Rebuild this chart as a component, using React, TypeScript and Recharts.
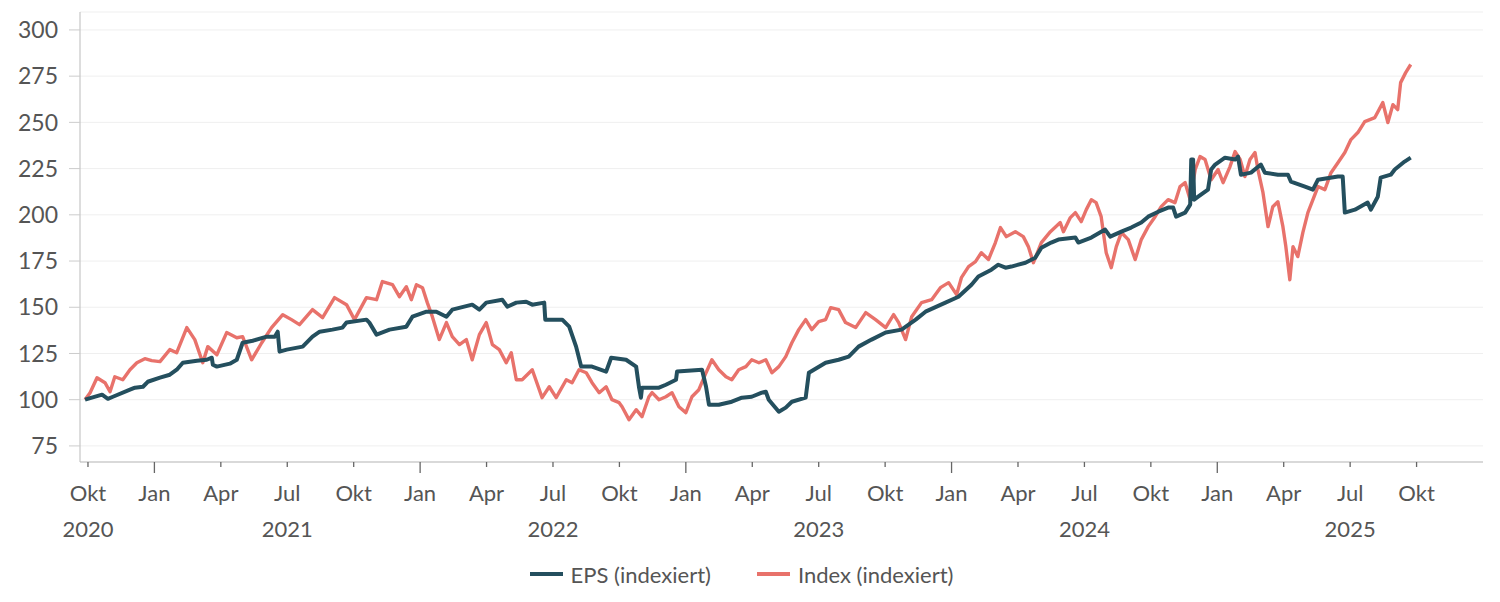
import React from "react";
import { LineChart, Line, XAxis, YAxis, CartesianGrid, Legend } from "recharts";

// time axis in decimal years (2020.75 = Okt 2020)
const tickPositions = [
  2020.75, 2021, 2021.25, 2021.5, 2021.75, 2022, 2022.25, 2022.5, 2022.75, 2023, 2023.25, 2023.5,
  2023.75, 2024, 2024.25, 2024.5, 2024.75, 2025, 2025.25, 2025.5, 2025.75,
];
const monthLabels = [
  "Okt", "Jan", "Apr", "Jul", "Okt", "Jan", "Apr", "Jul", "Okt", "Jan", "Apr", "Jul",
  "Okt", "Jan", "Apr", "Jul", "Okt", "Jan", "Apr", "Jul", "Okt",
];
const yearLabels = [
  "2020", "", "", "2021", "", "", "", "2022", "", "", "", "2023",
  "", "", "", "2024", "", "", "", "2025", "",
];
const yTicks = [75, 100, 125, 150, 175, 200, 225, 250, 275, 300];

const indexDates = [
  2020.739, 2020.758, 2020.784, 2020.814, 2020.833, 2020.851, 2020.881, 2020.908, 2020.934, 2020.964,
  2020.99, 2021.021, 2021.058, 2021.084, 2021.122, 2021.152, 2021.182, 2021.201, 2021.235, 2021.272,
  2021.31, 2021.332, 2021.366, 2021.404, 2021.441, 2021.483, 2021.516, 2021.546, 2021.595, 2021.633,
  2021.678, 2021.723, 2021.753, 2021.798, 2021.836, 2021.858, 2021.896, 2021.922, 2021.948, 2021.967,
  2021.986, 2022.009, 2022.027, 2022.046, 2022.072, 2022.099, 2022.121, 2022.148, 2022.174, 2022.196,
  2022.223, 2022.249, 2022.272, 2022.298, 2022.324, 2022.343, 2022.362, 2022.384, 2022.422, 2022.459,
  2022.486, 2022.512, 2022.55, 2022.572, 2022.598, 2022.625, 2022.647, 2022.674, 2022.7, 2022.722,
  2022.749, 2022.76, 2022.786, 2022.813, 2022.835, 2022.861, 2022.873, 2022.899, 2022.925, 2022.948,
  2022.974, 2023.0, 2023.023, 2023.049, 2023.076, 2023.098, 2023.124, 2023.151, 2023.173, 2023.199,
  2023.226, 2023.248, 2023.275, 2023.301, 2023.324, 2023.35, 2023.376, 2023.399, 2023.425, 2023.451,
  2023.474, 2023.5, 2023.526, 2023.545, 2023.575, 2023.601, 2023.639, 2023.677, 2023.714, 2023.752,
  2023.782, 2023.801, 2023.827, 2023.85, 2023.887, 2023.925, 2023.958, 2023.989, 2024.019, 2024.037,
  2024.064, 2024.09, 2024.112, 2024.139, 2024.165, 2024.184, 2024.206, 2024.24, 2024.27, 2024.289,
  2024.308, 2024.338, 2024.372, 2024.409, 2024.421, 2024.447, 2024.466, 2024.488, 2024.507, 2024.526,
  2024.544, 2024.563, 2024.582, 2024.601, 2024.62, 2024.639, 2024.665, 2024.691, 2024.714, 2024.74,
  2024.766, 2024.789, 2024.815, 2024.841, 2024.86, 2024.879, 2024.898, 2024.917, 2024.935, 2024.954,
  2024.977, 2025.003, 2025.022, 2025.048, 2025.067, 2025.086, 2025.104, 2025.123, 2025.142, 2025.153,
  2025.172, 2025.191, 2025.209, 2025.228, 2025.247, 2025.258, 2025.273, 2025.285, 2025.303, 2025.322,
  2025.341, 2025.36, 2025.379, 2025.405, 2025.428, 2025.454, 2025.48, 2025.503, 2025.529, 2025.555,
  2025.593, 2025.623, 2025.642, 2025.661, 2025.679, 2025.69, 2025.709, 2025.728,
];
const indexValues = [
  100.0, 103.8, 111.9, 109.2, 104.3, 112.4, 110.8, 116.2, 120.0, 122.2,
  121.1, 120.6, 127.1, 125.4, 139.0, 132.5, 120.0, 128.7, 124.3, 136.3,
  133.5, 134.1, 121.6, 130.8, 139.0, 146.0, 143.3, 140.6, 148.7, 144.4,
  155.2, 151.4, 143.3, 155.2, 154.1, 163.9, 162.2, 155.7, 161.1, 154.1,
  162.2, 160.6, 152.5, 144.9, 132.5, 141.7, 134.1, 129.8, 132.5, 121.6,
  135.2, 141.7, 129.8, 127.1, 120.0, 125.4, 110.8, 110.8, 116.2, 101.1,
  107.0, 101.1, 110.8, 109.2, 116.2, 114.6, 109.2, 103.8, 107.0, 100.0,
  98.4, 96.2, 89.2, 94.6, 90.8, 101.6, 103.8, 100.0, 101.6, 103.8,
  96.2, 93.0, 101.6, 105.4, 114.6, 121.6, 116.2, 112.4, 110.8, 116.2,
  117.9, 121.6, 120.0, 121.6, 114.6, 117.9, 123.3, 130.8, 137.9, 143.3,
  137.9, 142.2, 143.3, 149.8, 148.7, 141.7, 139.0, 147.1, 143.3, 139.0,
  146.0, 141.7, 132.5, 144.9, 152.5, 154.1, 160.6, 163.3, 156.8, 166.0,
  172.0, 174.7, 179.5, 175.8, 185.0, 193.1, 188.2, 190.9, 188.2, 182.8,
  174.1, 185.0, 190.9, 195.8, 190.9, 198.5, 201.2, 196.3, 202.8, 208.2,
  206.6, 199.0, 179.5, 171.4, 182.8, 190.4, 186.6, 175.8, 186.6, 193.6,
  199.0, 204.4, 208.2, 206.6, 215.3, 217.4, 208.2, 224.5, 231.5, 229.9,
  219.0, 224.5, 217.4, 226.1, 234.2, 229.9, 220.7, 229.9, 233.7, 224.5,
  212.0, 193.6, 204.4, 207.1, 193.6, 182.8, 164.9, 182.8, 177.4, 190.4,
  201.2, 208.2, 215.3, 213.6, 222.8, 228.2, 233.7, 240.7, 244.5, 250.4,
  252.6, 260.7, 249.9, 259.6, 256.9, 271.5, 276.9, 281.3,
];

const epsDates = [
  2020.739, 2020.803, 2020.825, 2020.844, 2020.908, 2020.927, 2020.957, 2020.975, 2021.021, 2021.058,
  2021.084, 2021.107, 2021.16, 2021.197, 2021.216, 2021.22, 2021.235, 2021.284, 2021.31, 2021.332,
  2021.37, 2021.423, 2021.453, 2021.464, 2021.471, 2021.498, 2021.558, 2021.595, 2021.622, 2021.67,
  2021.708, 2021.723, 2021.798, 2021.809, 2021.836, 2021.885, 2021.948, 2021.971, 2022.024, 2022.061,
  2022.099, 2022.121, 2022.196, 2022.223, 2022.249, 2022.309, 2022.328, 2022.362, 2022.399, 2022.422,
  2022.467, 2022.471, 2022.535, 2022.561, 2022.587, 2022.606, 2022.647, 2022.7, 2022.719, 2022.775,
  2022.813, 2022.824, 2022.831, 2022.835, 2022.899, 2022.925, 2022.963, 2022.967, 2023.061, 2023.076,
  2023.087, 2023.124, 2023.173, 2023.211, 2023.248, 2023.286, 2023.301, 2023.312, 2023.35, 2023.376,
  2023.399, 2023.451, 2023.463, 2023.526, 2023.575, 2023.613, 2023.65, 2023.699, 2023.752, 2023.812,
  2023.865, 2023.902, 2023.977, 2024.026, 2024.075, 2024.101, 2024.15, 2024.176, 2024.203, 2024.225,
  2024.278, 2024.315, 2024.338, 2024.375, 2024.402, 2024.466, 2024.477, 2024.526, 2024.578, 2024.597,
  2024.639, 2024.676, 2024.714, 2024.74, 2024.778, 2024.815, 2024.834, 2024.845, 2024.879, 2024.898,
  2024.902, 2024.909, 2024.913, 2024.928, 2024.965, 2024.977, 2024.992, 2025.029, 2025.067, 2025.078,
  2025.089, 2025.127, 2025.164, 2025.179, 2025.228, 2025.266, 2025.277, 2025.33, 2025.36, 2025.379,
  2025.454, 2025.472, 2025.48, 2025.518, 2025.566, 2025.578, 2025.604, 2025.615, 2025.653, 2025.668,
  2025.705, 2025.728,
];
const epsValues = [
  100.0, 102.7, 100.5, 101.6, 105.4, 106.5, 107.0, 109.7, 111.9, 113.5,
  116.2, 120.0, 121.1, 121.6, 122.7, 118.9, 117.9, 119.5, 121.6, 130.8,
  131.9, 134.1, 134.1, 136.8, 126.0, 127.1, 128.7, 134.1, 136.8, 137.9,
  139.0, 141.7, 143.3, 141.7, 135.2, 137.9, 139.5, 144.9, 147.6, 147.6,
  144.9, 148.7, 151.4, 148.7, 152.5, 154.1, 150.3, 152.5, 153.0, 151.4,
  152.5, 143.3, 143.3, 139.5, 128.7, 117.9, 117.9, 115.2, 122.7, 121.6,
  117.9, 106.5, 101.1, 106.5, 106.5, 108.1, 110.8, 115.2, 116.2, 107.0,
  97.3, 97.3, 98.9, 101.1, 101.6, 103.8, 104.3, 100.0, 93.5, 95.7,
  98.9, 101.1, 114.6, 120.0, 121.6, 123.3, 128.7, 132.5, 136.3, 137.9,
  143.3, 147.6, 152.5, 155.7, 162.2, 166.6, 170.3, 173.0, 171.4, 172.0,
  174.1, 176.8, 182.2, 185.0, 186.6, 187.7, 185.0, 187.7, 192.0, 188.2,
  190.9, 193.1, 195.8, 199.0, 201.7, 203.9, 203.9, 199.0, 201.2, 205.5,
  229.9, 229.9, 208.2, 209.8, 213.6, 224.5, 227.2, 230.9, 229.9, 231.5,
  221.7, 222.8, 227.2, 222.8, 221.7, 221.7, 218.0, 215.3, 213.6, 219.0,
  220.7, 220.7, 201.2, 202.8, 206.6, 202.8, 209.8, 220.1, 221.7, 224.5,
  228.8, 230.9,
];

const indexData = indexDates.map((t, i) => ({ t, v: indexValues[i] }));
const epsData = epsDates.map((t, i) => ({ t, v: epsValues[i] }));

const EPS_COLOR = "#244f5e";
const INDEX_COLOR = "#e8726b";
const FONT = "Lato, 'Open Sans', sans-serif";

function MonthTick(props: any) {
  const { x, y, payload } = props;
  const i = tickPositions.indexOf(payload.value);
  const isJan = monthLabels[i] === "Jan";
  return (
    <g>
      <line x1={x} y1={y} x2={x} y2={y + (isJan ? 11 : 5)} stroke="#666" strokeWidth={1.3} />
      <text x={x} y={y + 39} textAnchor="middle" fill="#555" fontSize={22} fontFamily={FONT}>
        {monthLabels[i]}
      </text>
      {yearLabels[i] && (
        <text x={x} y={y + 75} textAnchor="middle" fill="#555" fontSize={22} fontFamily={FONT}>
          {yearLabels[i]}
        </text>
      )}
    </g>
  );
}

function LegendContent() {
  const item = (color: string, label: string) => (
    <div style={{ display: "flex", alignItems: "center", gap: 8 }}>
      <div style={{ width: 33, height: 4, background: color }} />
      <span style={{ fontSize: 22, color: "#555", fontFamily: FONT }}>{label}</span>
    </div>
  );
  return (
    <div style={{ display: "flex", justifyContent: "center", gap: 46, height: 36, alignItems: "center" }}>
      {item(EPS_COLOR, "EPS (indexiert)")}
      {item(INDEX_COLOR, "Index (indexiert)")}
    </div>
  );
}

export default function App() {
  return (
    <div style={{ width: 1500, height: 602, background: "#fff" }}>
      <style>{"body{margin:0;background:#fff}"}</style>
      <LineChart width={1500} height={602} margin={{ top: 12, right: 17, left: 0, bottom: 10 }}>
        <CartesianGrid horizontal vertical={false} stroke="#efefef" strokeWidth={1} />
        <XAxis
          dataKey="t"
          type="number"
          domain={[2020.72, 2026.0]}
          ticks={tickPositions}
          interval={0}
          allowDataOverflow
          tick={<MonthTick />}
          tickLine={false}
          tickSize={0}
          tickMargin={0}
          height={94}
          axisLine={{ stroke: "#bbb" }}
        />
        <YAxis
          type="number"
          domain={[66.3, 309.7]}
          ticks={yTicks}
          interval={0}
          allowDataOverflow
          width={80}
          tickSize={11}
          tickMargin={11}
          tick={{ fontSize: 23, fill: "#555", fontFamily: FONT }}
          tickLine={{ stroke: "#ccc" }}
          axisLine={{ stroke: "#bbb" }}
        />
        <Legend verticalAlign="bottom" content={<LegendContent />} />
        <Line
          data={indexData}
          dataKey="v"
          name="Index (indexiert)"
          type="linear"
          stroke={INDEX_COLOR}
          strokeWidth={3.4}
          strokeLinejoin="round"
          dot={false}
          isAnimationActive={false}
        />
        <Line
          data={epsData}
          dataKey="v"
          name="EPS (indexiert)"
          type="linear"
          stroke={EPS_COLOR}
          strokeWidth={4}
          strokeLinejoin="round"
          dot={false}
          isAnimationActive={false}
        />
      </LineChart>
    </div>
  );
}
